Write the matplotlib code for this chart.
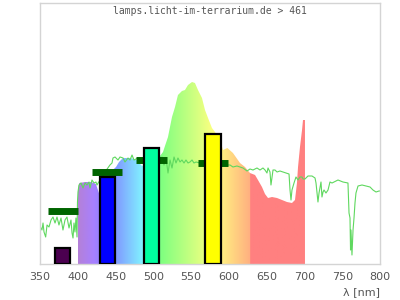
import matplotlib
matplotlib.use("Agg")
import matplotlib.pyplot as plt
import numpy as np
from matplotlib.colors import to_rgb

# lamp spectrum (coloured area), wavelength in nm / relative height
lamp_nm = [400.0, 400.3, 402, 410, 418, 424, 428, 432, 440, 445, 450.6, 454.6, 459.9,
           470, 478, 485, 490, 500, 508.8, 512.8, 515.4, 519.4, 524.7, 528.7, 532.6,
           537.9, 541.9, 545.9, 551.2, 555.1, 559.1, 564.4, 568.4, 572.4, 577.6, 581.6,
           588.2, 592.2, 598, 605.4, 614.7, 621.3, 627.9, 634.6, 638.5, 643.8, 647.8,
           651.8, 657.1, 663.7, 670.3, 676.9, 683.5, 687.5, 690.1, 691.5, 694.1, 696.8,
           698.1, 700.7, 700.7]
lamp_val = [0, 74, 81, 82, 82, 80, 71, 76, 86, 93, 97, 102, 106,
            106, 104, 98, 100, 104, 108, 112, 118, 127, 147, 157, 169,
            173, 174, 179, 182, 181, 174, 166, 154, 146, 136, 132,
            124, 114, 116, 111, 101, 97, 91, 89, 84, 77, 70,
            66, 67, 66, 64, 62, 61, 64, 81, 97, 117, 134,
            144, 144, 0]

# daylight reference (green line)
sun_nm = [351.3, 352.6, 354.0, 355.3, 357.5, 359.3, 361.9, 364.6, 367.2, 369.9, 372.5,
          375.1, 377.8, 380.4, 383.1, 385.7, 388.4, 391.0, 392.4, 393.7, 395.0, 396.3,
          397.6, 399.0, 399.6, 400.3, 401.6, 404.3, 406.9, 409.6, 412.2, 414.9, 416.2,
          418.8, 421.5, 424.1, 425.4, 429.4, 436.0, 442.6, 445.3, 446.6, 449.3, 453.2,
          455.9, 459.9, 462.5, 466.5, 469.1, 471.8, 474.4, 479.7, 489.0, 495.6, 502.2,
          508.8, 511.5, 514.1, 516.8, 519.4, 522.1, 524.7, 527.4, 530.0, 532.6, 535.3,
          537.9, 540.6, 543.2, 545.9, 548.5, 551.2, 553.8, 556.5, 561.8, 575.0, 588.2,
          601.5, 605.4, 610.7, 614.7, 618.7, 624.0, 627.9, 631.9, 637.2, 641.2, 645.1,
          647.8, 650.4, 651.8, 654.4, 655.7, 657.1, 658.4, 661.0, 663.7, 667.6, 671.6,
          675.6, 679.6, 680.9, 682.2, 683.5, 686.2, 688.8, 691.5, 694.1, 696.8, 698.1,
          700.7, 704.7, 710.0, 714.0, 715.3, 716.6, 717.9, 719.3, 721.9, 723.2, 724.6,
          725.9, 728.5, 731.2, 733.8, 736.5, 739.1, 744.4, 751.0, 757.6, 759.0, 760.3,
          761.0, 761.6, 762.9, 764.3, 765.6, 766.9, 768.2, 770.9, 776.2, 781.5, 786.8,
          790.7, 794.7, 798.7, 800]
sun_val = [36, 34, 41, 32, 27, 39, 37, 44, 47, 41, 47,
           39, 46, 34, 44, 47, 36, 44, 31, 26, 41, 32,
           46, 27, 62, 72, 79, 81, 76, 81, 79, 82, 76,
           84, 81, 82, 79, 84, 92, 99, 101, 106, 107, 104,
           107, 106, 102, 106, 104, 109, 104, 106, 104, 104, 104,
           102, 107, 99, 106, 91, 104, 96, 107, 101, 106, 102,
           104, 101, 104, 101, 102, 104, 101, 102, 101, 100, 99,
           99, 97, 98, 97, 96, 93, 95, 94, 96, 94, 96,
           94, 91, 96, 92, 79, 87, 94, 94, 92, 93, 92,
           91, 90, 74, 64, 74, 81, 87, 84, 87, 87, 85,
           85, 88, 88, 86, 81, 71, 62, 71, 82, 67, 72,
           74, 71, 74, 82, 81, 82, 84, 82, 81, 51, 46,
           14, 34, 9, 34, 46, 61, 71, 78, 79, 78, 77,
           74, 72, 73, 73]

# measured bands (bars) and reference levels (dark green markers)
band_nm = [380, 439, 497.5, 579]
band_val = [16, 87, 116, 130]
band_col = ["#4b0050", "#0000ff", "#00ffa0", "#ffff00"]
ref_val = [53, 92, 104.5, 101.5]

ticks = [350, 400, 450, 500, 550, 600, 650, 700, 750, 800]

# colour stops for the spectrum fill
grad_nm = [400, 420, 440, 490, 510, 580, 627, 628, 701]
grad_col = ["#b480d8", "#a880ff", "#8080ff", "#80ffff", "#80ff80",
            "#ffff80", "#ffb080", "#ff8080", "#ff8080"]

fig = plt.figure(figsize=(4, 3), dpi=100)
ax = fig.add_axes([0.1, 0.12, 0.85, 0.87])

# gradient clipped to the lamp spectrum
xs = np.linspace(400, 701, 302)
rgb = np.array([to_rgb(c) for c in grad_col])
img = np.stack([np.interp(xs, grad_nm, rgb[:, i]) for i in range(3)], axis=-1)[None, :, :]
poly = ax.fill(lamp_nm, lamp_val, facecolor="none", edgecolor="none")[0]
im = ax.imshow(img, extent=[400, 701, 0, 261], aspect="auto", zorder=1,
               interpolation="bilinear")
im.set_clip_path(poly)

ax.plot(sun_nm, sun_val, color="#5fd85f", lw=0.8, zorder=2)

ax.hlines(ref_val, np.array(band_nm) - 20, np.array(band_nm) + 20,
          colors="#006400", lw=5, zorder=3, capstyle="butt")
ax.bar(band_nm, band_val, width=20, color=band_col, edgecolor="black",
       linewidth=1.6, zorder=4)

ax.set_xlim(350, 800)
ax.set_ylim(0, 261)
ax.set_xticks(ticks)
ax.set_yticks([])
ax.tick_params(axis="x", length=0, pad=6, labelsize=8, labelcolor="#555555")
for s in ax.spines.values():
    s.set_color("#d4d4d4")
    s.set_linewidth(1)

ax.text(0.5, 0.97, "lamps.licht-im-terrarium.de > 461", transform=ax.transAxes,
        ha="center", va="center", family="DejaVu Sans Mono", fontsize=7,
        color="#555555")
fig.text(0.95, 0.01, "λ [nm]", ha="right", va="bottom", fontsize=8, color="#555555")

fig.savefig("out.png", dpi=100)
